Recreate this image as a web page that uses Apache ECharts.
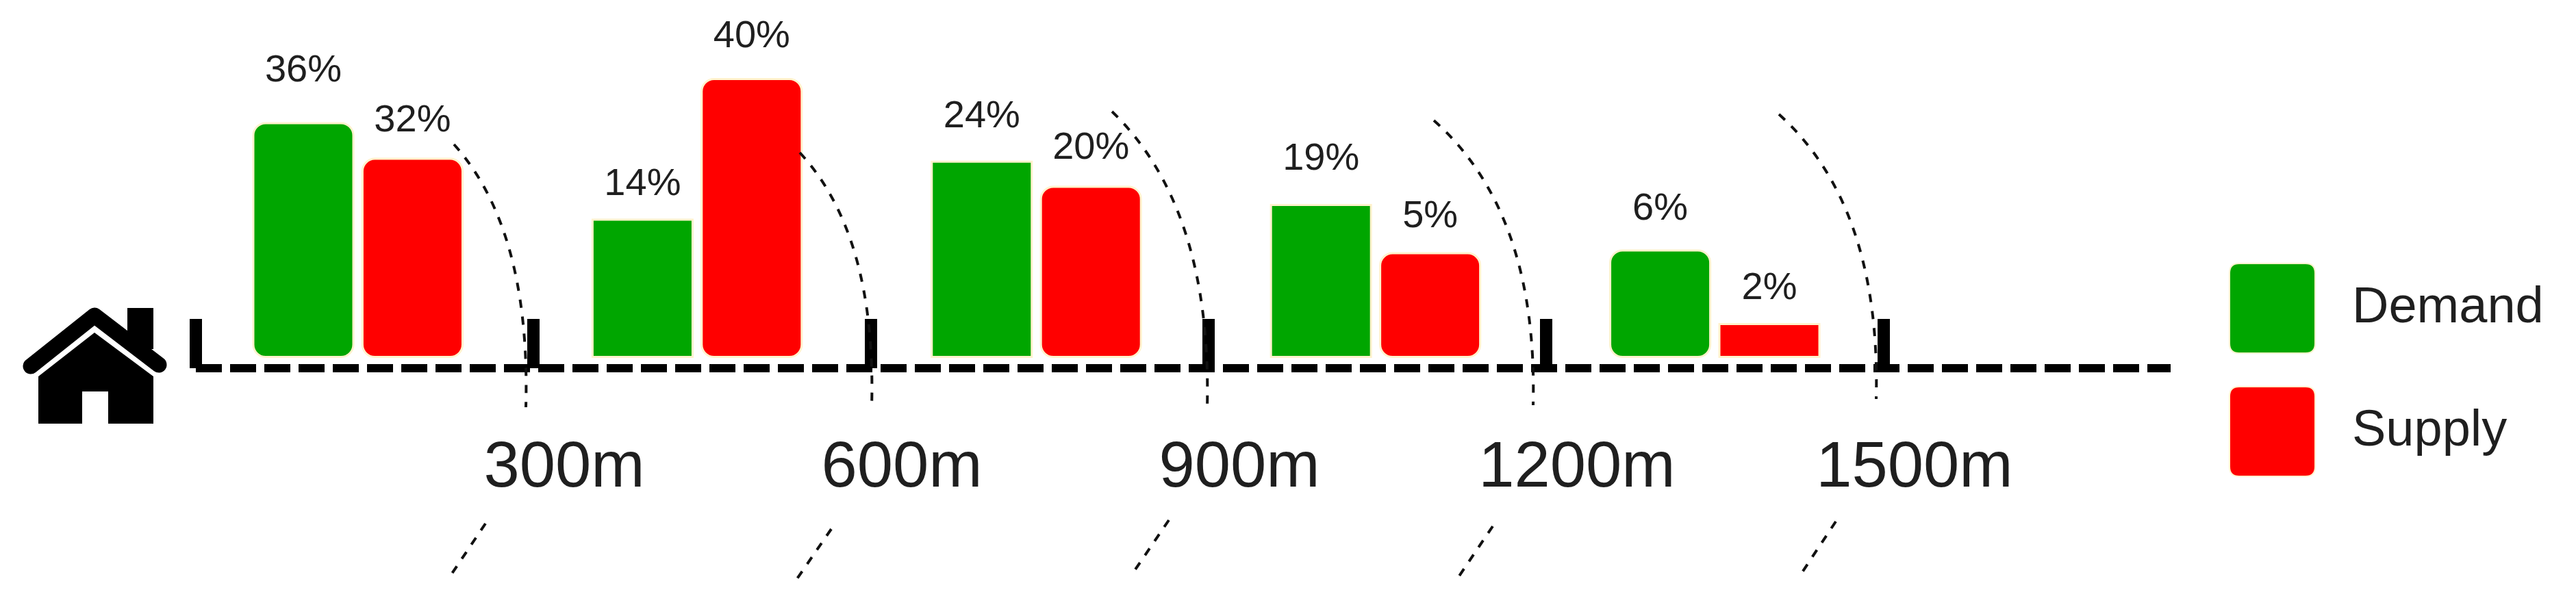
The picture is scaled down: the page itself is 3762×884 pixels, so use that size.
<!DOCTYPE html>
<html>
<head>
<meta charset="utf-8">
<style>html,body{margin:0;padding:0;background:#fff}#chart{width:3762px;height:884px}</style>
<script src="https://cdn.jsdelivr.net/npm/echarts@6/dist/echarts.min.js"></script>
</head>
<body>
<div id="chart"></div>
<script>
// Printed percentages, as shown on the picture.
const demandLabels = [36, 14, 24, 19, 6];
const supplyLabels = [32, 40, 20, 5, 2];
// The source graphic is hand drawn: its bars are NOT proportional to the printed
// percentages. These are the bar heights, on a scale where
// the printed 40% bar equals 40.
const demandDrawn = [33.7, 19.9, 28.2, 22.0, 15.5];
const supplyDrawn = [28.6, 40.0, 24.6, 15.1, 5.0];
const categories = ['0-300m', '300-600m', '600-900m', '900-1200m', '1200-1500m'];
const tickMetres = [0, 300, 600, 900, 1200, 1500];
const labelMetres = [300, 600, 900, 1200, 1500];
const seriesNames = ['Demand', 'Supply'];

// Styling per bar
const demandRounded = [true, false, false, false, true];
const supplyRounded = [true, true, true, true, false];
const demandLift = [47, 22, 36, 37, 31];
const supplyLift = [26, 32, 27, 24, 22];

const GREEN = '#00A600', RED = '#FF0000', EDGE = '#FFF2CC', INK = '#1f1f1f';

function barData(drawn, printed, rounded, lift) {
  return drawn.map((v, i) => ({
    value: v,
    itemStyle: { borderRadius: rounded[i] ? 18 : 0 },
    label: { distance: lift[i], formatter: printed[i] + '%' }
  }));
}
function barSeries(name, color, data) {
  return {
    name, type: 'bar', xAxisIndex: 0, yAxisIndex: 0, barWidth: 149, barGap: '7%',
    itemStyle: { color, borderColor: EDGE, borderWidth: 3 },
    label: { show: true, position: 'top', color: INK, fontFamily: 'Liberation Sans', fontSize: 56 },
    data, animation: false
  };
}

// Annotation: dashed range arcs [x0,y0, cx,cy, x1,y1] and their lower fragments
const arcs = [
  [663,211, 775,336, 768,595], [1168,223, 1280,344, 1273,595], [1624,163, 1770,304, 1763,596],
  [2094,176, 2246,311, 2239,592], [2598,167, 2747,302, 2740,583]
];
const arcTails = [
  [709,765, 660,838], [1214,773, 1161,850], [1707,760, 1656,835], [2180,769, 2128,846], [2681,762, 2628,842]
];
const dash = { stroke: '#111', lineWidth: 4, lineDash: [12, 13], fill: null };
const graphics = [];
arcs.forEach(a => graphics.push({ type: 'bezierCurve', z: 20,
  shape: { x1: a[0], y1: a[1], cpx1: a[2], cpy1: a[3], x2: a[4], y2: a[5] }, style: dash }));
arcTails.forEach(a => graphics.push({ type: 'line', z: 20,
  shape: { x1: a[0], y1: a[1], x2: a[2], y2: a[3] }, style: dash }));
// House icon
graphics.push({ type: 'rect', shape: { x: 186, y: 450, width: 38, height: 60 }, style: { fill: '#000' } });
graphics.push({ type: 'polyline', shape: { points: [[45,535],[138,461],[232,533]] },
  style: { stroke: '#000', lineWidth: 23, lineCap: 'round', lineJoin: 'round', fill: null } });
graphics.push({ type: 'polygon', shape: { points: [[56,550],[138,486],[224,550],[224,619],[158,619],[158,572],[120,572],[120,619],[56,619]] },
  style: { fill: '#000' } });

const swatch = 'path://M14 0H111Q125 0 125 14V117Q125 131 111 131H14Q0 131 0 117V14Q0 0 14 0Z';

const chart = echarts.init(document.getElementById('chart'), null, { renderer: 'canvas' });
chart.setOption({
  animation: false,
  backgroundColor: '#fff',
  legend: {
    orient: 'vertical', left: 3250, top: 379, itemWidth: 125, itemHeight: 131, itemGap: 47,
    icon: swatch, data: seriesNames, selectedMode: false,
    textStyle: { fontFamily: 'Liberation Sans', fontSize: 74, color: INK, padding: [0, 0, 0, 49] }
  },
  grid: [
    { left: 275, width: 2477, top: 114, height: 409 },
    { left: 286, width: 2884, top: 438, height: 100 }
  ],
  xAxis: [
    { gridIndex: 0, type: 'category', data: categories, show: false },
    {
      gridIndex: 1, type: 'value', min: 0, max: 1755, splitLine: { show: false },
      axisLine: { show: true, lineStyle: { color: '#000', width: 12, type: [38, 12], cap: 'butt' } },
      axisTick: { show: true, inside: true, length: 72, customValues: tickMetres, lineStyle: { color: '#000', width: 18, cap: 'butt' } },
      axisLabel: {
        show: true, customValues: labelMetres, formatter: v => v + 'm', margin: 100,
        fontFamily: 'Liberation Sans', fontSize: 94, color: INK, padding: [0, 0, 0, 90]
      }
    }
  ],
  yAxis: [
    { gridIndex: 0, type: 'value', min: 0, max: 40, show: false },
    { gridIndex: 1, type: 'value', min: 0, max: 1, show: false }
  ],
  series: [
    barSeries(seriesNames[0], GREEN, barData(demandDrawn, demandLabels, demandRounded, demandLift)),
    barSeries(seriesNames[1], RED, barData(supplyDrawn, supplyLabels, supplyRounded, supplyLift))
  ],
  graphic: graphics
});
</script>
</body>
</html>
